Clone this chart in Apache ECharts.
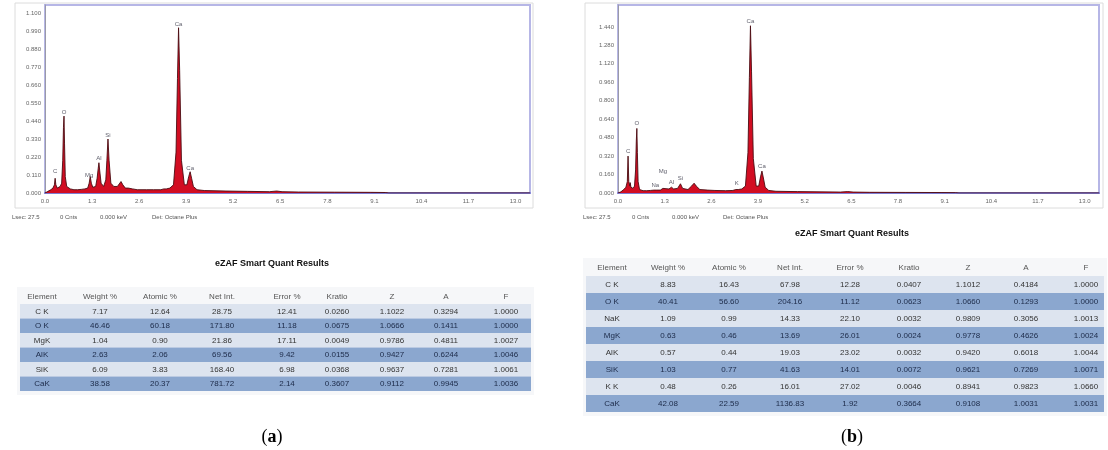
<!DOCTYPE html>
<html>
<head>
<meta charset="utf-8">
<script src="https://cdn.jsdelivr.net/npm/echarts@6/dist/echarts.min.js"></script>
<style>html,body{margin:0;padding:0;background:#fff}#c{width:1108px;height:450px}</style>
</head>
<body>
<div id="c"></div>
<script>
// ---------- DATA ----------
const xTicks = ['0.0','1.3','2.6','3.9','5.2','6.5','7.8','9.1','10.4','11.7','13.0'];

// spectrum (a): [energy keV, counts (K)]
const spectrumA = [
 [0.00,0],[0.08,0.010],[0.16,0.020],[0.22,0.030],[0.26,0.050],[0.28,0.090],[0.30,0.050],[0.34,0.030],
 [0.38,0.030],[0.42,0.040],[0.46,0.060],[0.49,0.200],[0.51,0.400],[0.525,0.470],[0.54,0.300],[0.56,0.100],
 [0.60,0.040],[0.70,0.025],[0.80,0.020],[0.90,0.020],[1.00,0.022],[1.10,0.025],[1.18,0.030],[1.22,0.060],
 [1.25,0.100],[1.28,0.060],[1.32,0.035],[1.40,0.040],[1.44,0.090],[1.47,0.150],[1.49,0.185],[1.51,0.140],
 [1.55,0.060],[1.62,0.040],[1.68,0.080],[1.71,0.200],[1.74,0.330],[1.77,0.200],[1.82,0.060],[1.90,0.040],
 [2.00,0.040],[2.05,0.055],[2.10,0.070],[2.15,0.050],[2.22,0.030],[2.30,0.030],[2.35,0.035],[2.42,0.025],
 [2.55,0.020],[2.80,0.020],[3.00,0.020],[3.20,0.020],[3.28,0.025],[3.31,0.030],[3.35,0.025],[3.45,0.030],
 [3.55,0.050],[3.62,0.250],[3.66,0.700],[3.69,1.010],[3.72,0.750],[3.77,0.200],[3.85,0.050],[3.92,0.050],
 [3.97,0.100],[4.01,0.130],[4.05,0.090],[4.10,0.040],[4.20,0.020],[4.40,0.015],[5.00,0.012],[5.60,0.010],
 [6.20,0.008],[6.40,0.012],[6.55,0.008],[7.00,0.006],[8.00,0.005],[9.00,0.004],[9.40,0.003],[9.50,0],[13.40,0]
];
// spectrum (b)
const spectrumB = [
 [0.00,0],[0.08,0.010],[0.16,0.030],[0.22,0.050],[0.26,0.100],[0.28,0.320],[0.30,0.100],[0.33,0.060],
 [0.34,0.090],[0.36,0.050],[0.42,0.040],[0.46,0.060],[0.49,0.200],[0.51,0.450],[0.525,0.560],[0.54,0.350],
 [0.56,0.100],[0.60,0.030],[0.70,0.020],[0.80,0.020],[0.90,0.022],[1.00,0.025],[1.04,0.035],[1.08,0.025],
 [1.18,0.025],[1.25,0.040],[1.30,0.030],[1.42,0.035],[1.49,0.050],[1.55,0.035],[1.66,0.040],[1.74,0.080],
 [1.80,0.040],[1.95,0.030],[2.05,0.060],[2.12,0.085],[2.18,0.060],[2.28,0.030],[2.50,0.025],[2.70,0.022],
 [3.00,0.020],[3.20,0.022],[3.28,0.030],[3.31,0.040],[3.35,0.030],[3.45,0.035],[3.55,0.060],[3.62,0.350],
 [3.66,1.000],[3.69,1.450],[3.72,1.050],[3.77,0.300],[3.85,0.060],[3.92,0.060],[3.97,0.140],[4.01,0.190],
 [4.05,0.130],[4.10,0.050],[4.20,0.022],[4.40,0.015],[5.00,0.012],[5.60,0.010],[6.20,0.008],[6.40,0.012],
 [6.55,0.008],[7.00,0.006],[8.00,0.005],[9.00,0.004],[9.40,0.003],[9.50,0],[13.40,0]
];
// peak labels: [energy, label height, text]
const peaksA = [[0.28,0.13,'C'],[0.525,0.49,'O'],[1.22,0.11,'Mg'],[1.49,0.21,'Al'],[1.74,0.35,'Si'],[3.69,1.03,'Ca'],[4.01,0.15,'Ca']];
const peaksB = [[0.28,0.36,'C'],[0.525,0.60,'O'],[1.04,0.07,'Na'],[1.25,0.19,'Mg'],[1.49,0.09,'Al'],[1.74,0.13,'Si'],[3.31,0.08,'K'],[3.69,1.49,'Ca'],[4.01,0.23,'Ca']];
const yLabelsB = ['0.000','0.160','0.320','0.480','0.640','0.800','0.960','1.120','1.280','1.440'];

const infoText = ['Lsec: 27.5', '0 Cnts', '0.000 keV', 'Det: Octane Plus'];
const tableTitle = 'eZAF Smart Quant Results';
const tableHeader = ['Element','Weight %','Atomic %','Net Int.','Error %','Kratio','Z','A','F'];
const elementsA = ['C K','O K','MgK','AlK','SiK','CaK'];
const weightA = ['7.17','46.46','1.04','2.63','6.09','38.58'];
const atomicA = ['12.64','60.18','0.90','2.06','3.83','20.37'];
const netA    = ['28.75','171.80','21.86','69.56','168.40','781.72'];
const errorA  = ['12.41','11.18','17.11','9.42','6.98','2.14'];
const kratioA = ['0.0260','0.0675','0.0049','0.0155','0.0368','0.3607'];
const zA      = ['1.1022','1.0666','0.9786','0.9427','0.9637','0.9112'];
const aA      = ['0.3294','0.1411','0.4811','0.6244','0.7281','0.9945'];
const fA      = ['1.0000','1.0000','1.0027','1.0046','1.0061','1.0036'];

const elementsB = ['C K','O K','NaK','MgK','AlK','SiK','K K','CaK'];
const weightB = ['8.83','40.41','1.09','0.63','0.57','1.03','0.48','42.08'];
const atomicB = ['16.43','56.60','0.99','0.46','0.44','0.77','0.26','22.59'];
const netB    = ['67.98','204.16','14.33','13.69','19.03','41.63','16.01','1136.83'];
const errorB  = ['12.28','11.12','22.10','26.01','23.02','14.01','27.02','1.92'];
const kratioB = ['0.0407','0.0623','0.0032','0.0024','0.0032','0.0072','0.0046','0.3664'];
const zB      = ['1.1012','1.0660','0.9809','0.9778','0.9420','0.9621','0.8941','0.9108'];
const aB      = ['0.4184','0.1293','0.3056','0.4626','0.6018','0.7269','0.9823','1.0031'];
const fB      = ['1.0000','1.0000','1.0013','1.0024','1.0044','1.0071','1.0660','1.0031'];

// ---------- CHART ----------
const chart = echarts.init(document.getElementById('c'), null, {renderer:'canvas'});
const FONT = 'Liberation Sans, Arial, sans-serif';

function xAxisCfg(idx){
  return {
    type:'value', gridIndex:idx, min:0, max:13.4, interval:1.3,
    axisLine:{show:true, onZero:false, lineStyle:{color:'#7d7dd2', width:2}},
    axisTick:{show:false}, splitLine:{show:false},
    axisLabel:{fontSize:6, color:'#666', fontFamily:FONT, margin:5, showMaxLabel:false,
      formatter:(v)=>{ const i=Math.round(v/1.3); return xTicks[i]!==undefined ? xTicks[i] : ''; }}
  };
}
function yAxisCfg(idx, max, interval, labels){
  return {
    type:'value', gridIndex:idx, min:0, max:max, interval:interval,
    axisLine:{show:true, lineStyle:{color:'#9a9aa8', width:1}},
    axisTick:{show:false}, splitLine:{show:false},
    axisLabel:{fontSize:6, color:'#666', fontFamily:FONT, margin:4, showMaxLabel:false,
      formatter:(v)=>{
        if(!labels) return v.toFixed(3);
        const i=Math.round(v/interval); return labels[i]!==undefined ? labels[i] : '';
      }}
  };
}
function specSeries(idx, data){
  return {
    type:'line', xAxisIndex:idx, yAxisIndex:idx, data:data, symbol:'none', smooth:false,
    lineStyle:{color:'#4a0c12', width:0.9},
    areaStyle:{color:'#d20d22', opacity:1}, z:3
  };
}
function labelSeries(idx, peaks){
  return {
    type:'scatter', xAxisIndex:idx, yAxisIndex:idx, symbolSize:0, silent:true, z:5,
    data:peaks.map(p=>({value:[p[0],p[1]], name:p[2]})),
    label:{show:true, position:'inside', formatter:(p)=>p.name, fontSize:6, color:'#334', fontFamily:FONT}
  };
}

// table builder
function buildTable(left, right, colX, headerY, rowTop, rowH, cols){
  const els = [];
  const n = cols[0].length;
  els.push({type:'rect', shape:{x:left-3, y:headerY-10, width:right-left+6, height:(rowTop-headerY+10)+n*rowH+4},
    style:{fill:'#f6f7f9'}, z:1});
  for(let i=0;i<n;i++){
    els.push({type:'rect', shape:{x:left, y:rowTop+i*rowH, width:right-left, height:rowH},
      style:{fill: i%2===0 ? '#dde4ef' : '#8ba7cf'}, z:2});
  }
  tableHeader.forEach((h,j)=>{
    els.push({type:'text', x:colX[j], y:headerY, z:3,
      style:{text:h, fill:'#555', font:'8px '+FONT, align:'center', verticalAlign:'middle'}});
  });
  for(let i=0;i<n;i++){
    cols.forEach((col,j)=>{
      els.push({type:'text', x:colX[j], y:rowTop+i*rowH+rowH/2+0.5, z:3,
        style:{text:col[i], fill: i%2===0 ? '#333' : '#1c2a48', font:'8px '+FONT, align:'center', verticalAlign:'middle'}});
    });
  }
  return els;
}

const colXA = [42,100,160,222,287,337,392,446,506];
const colXB = [612,668,729,790,850,909,968,1026,1086];

const graphics = [
  {type:'rect', shape:{x:15, y:3, width:518, height:205}, style:{fill:'none', stroke:'#dcdcdc', lineWidth:1}, z:0},
  {type:'rect', shape:{x:585, y:3, width:518, height:205}, style:{fill:'none', stroke:'#dcdcdc', lineWidth:1}, z:0},
];
const infoXA = [12,60,100,152], infoXB = [583,632,672,723];
infoText.forEach((t,i)=>{
  graphics.push({type:'text', x:infoXA[i], y:217, style:{text:t, fill:'#555', font:'6px '+FONT, verticalAlign:'middle'}});
  graphics.push({type:'text', x:infoXB[i], y:217, style:{text:t, fill:'#555', font:'6px '+FONT, verticalAlign:'middle'}});
});
graphics.push({type:'text', x:272, y:264, style:{text:tableTitle, fill:'#111', font:'bold 9px '+FONT, align:'center', verticalAlign:'middle'}});
graphics.push({type:'text', x:852, y:234, style:{text:tableTitle, fill:'#111', font:'bold 9px '+FONT, align:'center', verticalAlign:'middle'}});
graphics.push(...buildTable(20, 531, colXA, 297, 304, 14.5, [elementsA,weightA,atomicA,netA,errorA,kratioA,zA,aA,fA]));
graphics.push(...buildTable(586, 1104, colXB, 268, 276, 17, [elementsB,weightB,atomicB,netB,errorB,kratioB,zB,aB,fB]));
graphics.push({type:'text', x:272, y:437, style:{text:'{p|(}{b|a}{p|)}', align:'center', verticalAlign:'middle',
  rich:{p:{font:'18px Liberation Serif', fill:'#000'}, b:{font:'bold 18px Liberation Serif', fill:'#000'}}}});
graphics.push({type:'text', x:852, y:437, style:{text:'{p|(}{b|b}{p|)}', align:'center', verticalAlign:'middle',
  rich:{p:{font:'18px Liberation Serif', fill:'#000'}, b:{font:'bold 18px Liberation Serif', fill:'#000'}}}});

chart.setOption({
  animation:false,
  backgroundColor:'#ffffff',
  grid:[
    {left:45, top:5, width:485, height:188, show:true, borderColor:'#b6b6e6', borderWidth:2, backgroundColor:'#fff'},
    {left:618, top:5, width:481, height:188, show:true, borderColor:'#b6b6e6', borderWidth:2, backgroundColor:'#fff'}
  ],
  xAxis:[xAxisCfg(0), xAxisCfg(1)],
  yAxis:[yAxisCfg(0, 1.149, 0.11, null), yAxisCfg(1, 1.63, 0.16, yLabelsB)],
  series:[specSeries(0, spectrumA), specSeries(1, spectrumB), labelSeries(0, peaksA), labelSeries(1, peaksB)],
  graphic:graphics
});
</script>
</body>
</html>
